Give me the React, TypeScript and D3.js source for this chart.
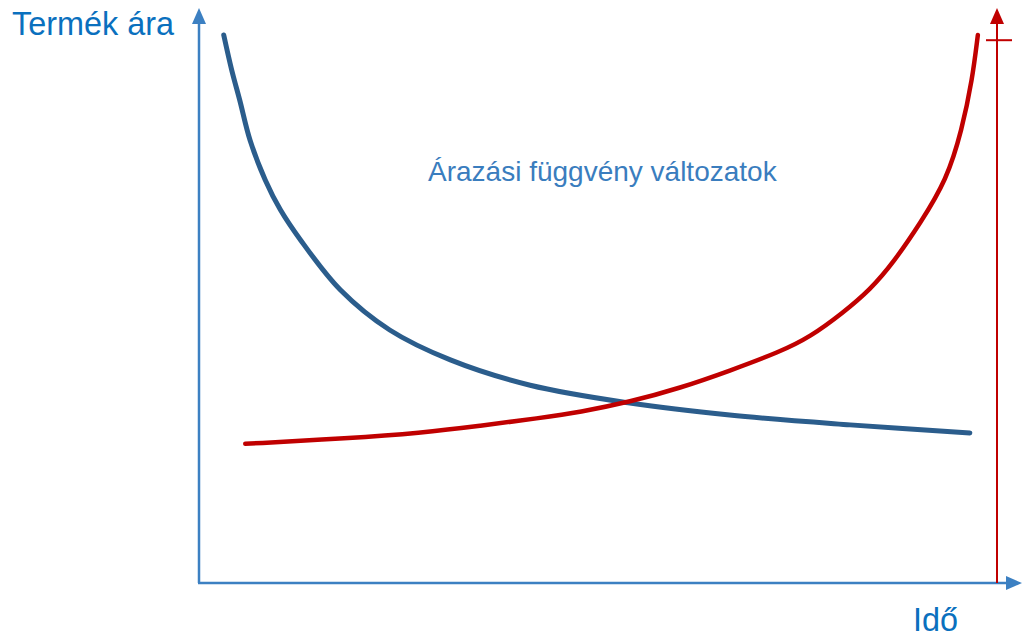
import { useEffect, useRef } from "react";
import * as d3 from "d3";

// time (0..100) and price (0..100)
const blueTime = [3.1, 4.1, 5.1, 6.4, 8.3, 10.2, 12.7, 17.7, 23.9, 31.5, 41.5, 54.0, 66.5, 81.6, 96.6];
const bluePrice = [95.3, 89.2, 84.0, 77.0, 70.1, 64.9, 59.7, 51.0, 44.0, 38.8, 34.4, 31.3, 29.2, 27.5, 26.1];

const redTime = [5.8, 18.9, 27.7, 35.2, 42.7, 47.7, 54.0, 60.3, 66.5, 72.8, 76.6, 80.7, 84.1, 87.0, 90.4, 93.7, 95.6, 96.9, 97.6];
const redPrice = [24.2, 25.2, 26.1, 27.3, 28.7, 29.7, 31.5, 33.9, 36.9, 40.2, 42.8, 47.0, 51.0, 55.7, 62.6, 70.1, 78.8, 87.5, 95.3];

const limitTime = 100;
const limitPrice = 94.4;

const yLabel = "Termék ára";
const xLabel = "Idő";
const title = "Árazási függvény változatok";

const width = 1023;
const height = 639;

export default function App() {
  const ref = useRef<SVGSVGElement>(null);

  useEffect(() => {
    document.body.style.margin = "0";
    const svg = d3.select(ref.current);
    svg.selectAll("*").remove();

    const x0 = 199;
    const y0 = 583;
    const x = d3.scaleLinear().domain([0, 100]).range([x0, 997]);
    const y = d3.scaleLinear().domain([0, 100]).range([y0, 8]);

    const axisColor = "#3C80C2";
    const red = "#C00000";
    const blue = "#2B5D8C";
    const font = "'Liberation Sans', Arial, sans-serif";

    // axes
    svg.append("line")
      .attr("x1", x0).attr("y1", y0).attr("x2", x0).attr("y2", 20)
      .attr("stroke", axisColor).attr("stroke-width", 2.5);
    svg.append("path")
      .attr("d", `M${x0},8 L${x0 - 7},24 L${x0 + 7},24 Z`)
      .attr("fill", axisColor);
    svg.append("line")
      .attr("x1", x0 - 1).attr("y1", y0).attr("x2", 1010).attr("y2", y0)
      .attr("stroke", axisColor).attr("stroke-width", 2.5);
    svg.append("path")
      .attr("d", `M1022,${y0} L1006,${y0 - 7} L1006,${y0 + 7} Z`)
      .attr("fill", axisColor);

    // red limit line with arrow and tick
    const lx = x(limitTime);
    svg.append("line")
      .attr("x1", lx).attr("y1", y0).attr("x2", lx).attr("y2", 20)
      .attr("stroke", red).attr("stroke-width", 2);
    svg.append("path")
      .attr("d", `M${lx},8 L${lx - 7},24 L${lx + 7},24 Z`)
      .attr("fill", red);
    svg.append("line")
      .attr("x1", lx - 11).attr("x2", lx + 15)
      .attr("y1", y(limitPrice)).attr("y2", y(limitPrice))
      .attr("stroke", red).attr("stroke-width", 2);

    const bluePts = blueTime.map((t, i) => [x(t), y(bluePrice[i])] as [number, number]);
    const redPts = redTime.map((t, i) => [x(t), y(redPrice[i])] as [number, number]);

    svg.append("path")
      .attr("d", d3.line().curve(d3.curveCatmullRom.alpha(0.5))(bluePts))
      .attr("fill", "none")
      .attr("stroke", blue)
      .attr("stroke-width", 5)
      .attr("stroke-linecap", "round");

    svg.append("path")
      .attr("d", d3.line().curve(d3.curveBasis)(redPts))
      .attr("fill", "none")
      .attr("stroke", red)
      .attr("stroke-width", 4.5)
      .attr("stroke-linecap", "round");

    // texts
    svg.append("text")
      .attr("x", 12).attr("y", 35)
      .attr("font-family", font).attr("font-size", 32.4)
      .attr("fill", "#0A70BE")
      .text(yLabel);
    svg.append("text")
      .attr("x", 913).attr("y", 631)
      .attr("font-family", font).attr("font-size", 32.4)
      .attr("fill", "#0A70BE")
      .text(xLabel);
    svg.append("text")
      .attr("x", 428).attr("y", 181)
      .attr("font-family", font).attr("font-size", 28)
      .attr("fill", "#3A7DBE")
      .text(title);
  }, []);

  return <svg ref={ref} width={width} height={height} style={{ display: "block" }} />;
}
